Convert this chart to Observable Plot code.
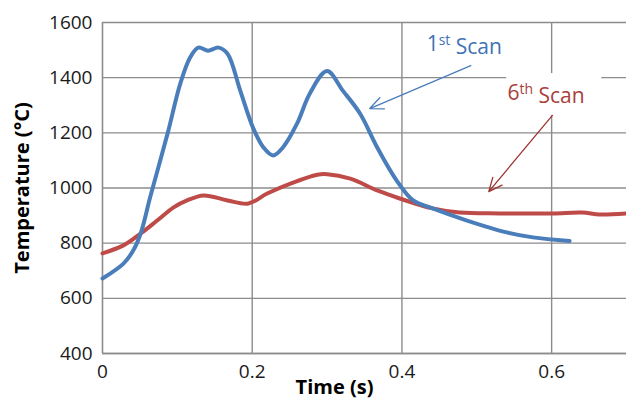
<!DOCTYPE html>
<html><head>
<meta charset="utf-8">
<script src="https://cdn.jsdelivr.net/npm/d3@7"></script>
<script src="https://cdn.jsdelivr.net/npm/@observablehq/plot@0.6"></script>
<style>
body{margin:0;background:#fff;}
</style>
</head><body><div id="chart"></div>
<script>
// 1st scan (blue)
const scan1Time = [0, 0.028, 0.041, 0.051, 0.064, 0.087, 0.104, 0.117, 0.128, 0.141, 0.155, 0.167, 0.184, 0.201, 0.215, 0.228, 0.241, 0.26, 0.277, 0.3, 0.321, 0.344, 0.367, 0.393, 0.415, 0.441, 0.487, 0.54, 0.575, 0.624];
const scan1Temp = [672, 726, 773, 835, 970, 1198, 1379, 1473, 1509, 1498, 1509, 1487, 1353, 1219, 1147, 1118, 1147, 1234, 1343, 1424, 1353, 1270, 1147, 1027, 955, 926, 882, 839, 821, 808];
// 6th scan (red)
const scan6Time = [0, 0.028, 0.051, 0.073, 0.095, 0.113, 0.135, 0.167, 0.195, 0.22, 0.251, 0.287, 0.3, 0.331, 0.367, 0.397, 0.441, 0.477, 0.531, 0.601, 0.641, 0.664, 0.7];
const scan6Temp = [763, 792, 835, 882, 930, 955, 973, 955, 944, 980, 1016, 1048, 1050, 1034, 991, 962, 926, 911, 908, 908, 911, 904, 908];

const xTicks = [0, 0.2, 0.4, 0.6];
const xTickLabels = ["0", "0.2", "0.4", "0.6"];
const yTicks = [400, 600, 800, 1000, 1200, 1400, 1600];
const yTickLabels = ["400", "600", "800", "1000", "1200", "1400", "1600"];

// annotations
const labelNames = ["1st Scan", "6th Scan"];
const labelTime = [0.433, 0.541];
const labelTemp = [1520, 1344];
const arrowFromTime = [0.492, 0.601];
const arrowFromTemp = [1444, 1263];
const arrowToTime = [0.357, 0.516];
const arrowToTemp = [1288, 987];
const maskBox = {t1: 0.54, t2: 0.667, T1: 1263, T2: 1415};

const blue = "#4a7ebb", red = "#be4b48";
const labelColors = ["#3f72b4", "#a8403b"];
const arrowColors = ["#4a7ebb", "#9e3431"];
const grid = "#8c8c8c";

const s1 = scan1Time.map((t, i) => ({t, T: scan1Temp[i]}));
const s6 = scan6Time.map((t, i) => ({t, T: scan6Temp[i]}));
const labels = labelNames.map((name, i) => ({name, t: labelTime[i], T: labelTemp[i], c: labelColors[i]}));
const arrows = arrowFromTime.map((t, i) => ({t1: t, T1: arrowFromTemp[i], t2: arrowToTime[i], T2: arrowToTemp[i], c: arrowColors[i]}));

const chart = Plot.plot({
  width: 626, height: 406,
  marginLeft: 102, marginRight: 0, marginTop: 22, marginBottom: 53,
  style: {fontFamily: "'Open Sans', sans-serif", color: "#1a1a1a", background: "#fff"},
  x: {domain: [0, 0.7]},
  y: {domain: [400, 1600]},
  marks: [
    Plot.gridY(yTicks, {stroke: grid, strokeOpacity: 1, strokeWidth: 1.4}),
    Plot.gridX([0.2, 0.4, 0.6], {stroke: grid, strokeOpacity: 1, strokeWidth: 1.4}),
    Plot.ruleX([0], {stroke: grid, strokeWidth: 1.6}),
    Plot.ruleY([400], {stroke: grid, strokeWidth: 1.6}),
    Plot.rect([maskBox], {x1: "t1", x2: "t2", y1: "T1", y2: "T2", fill: "white"}),
    Plot.axisY(yTicks, {tickSize: 0, tickPadding: 10, fontSize: 19, label: null, tickFormat: (d, i) => yTickLabels[i]}),
    Plot.axisX(xTicks, {tickSize: 0, tickPadding: 11, fontSize: 19, label: null, tickFormat: (d, i) => xTickLabels[i]}),
    Plot.text(["Temperature (°C)"], {frameAnchor: "left", rotate: -90, dx: -80, dy: 0, fontSize: 20, fontWeight: "bold", textAnchor: "middle", fill: "#000"}),
    Plot.text(["Time (s)"], {frameAnchor: "bottom", dx: -30, dy: 40, fontSize: 20, fontWeight: "bold", fill: "#000"}),
    Plot.line(s6, {x: "t", y: "T", stroke: red, strokeWidth: 4, curve: "catmull-rom"}),
    Plot.line(s1, {x: "t", y: "T", stroke: blue, strokeWidth: 4, curve: "catmull-rom"}),
    Plot.arrow(arrows, {x1: "t1", y1: "T1", x2: "t2", y2: "T2", stroke: "c", strokeWidth: 1.3, headLength: 17, headAngle: 48}),
    Plot.text(labels, {x: "t", y: "T", text: "name", fill: "c", fontSize: 21, textAnchor: "start"})
  ]
});
document.getElementById("chart").appendChild(chart);

// superscripts for ordinal labels
d3.select(chart).selectAll("text").each(function() {
  const el = d3.select(this);
  if (this.querySelector("tspan")) return;
  const txt = this.textContent;
  const m = txt.match(/^(\d+)(st|nd|rd|th)( .*)$/);
  if (!m) return;
  el.text(null);
  el.append("tspan").text(m[1]);
  el.append("tspan").attr("dy", "-0.45em").attr("font-size", "14").text(m[2]);
  el.append("tspan").attr("dy", "0.45em").text(m[3]);
});
</script>
</body></html>
